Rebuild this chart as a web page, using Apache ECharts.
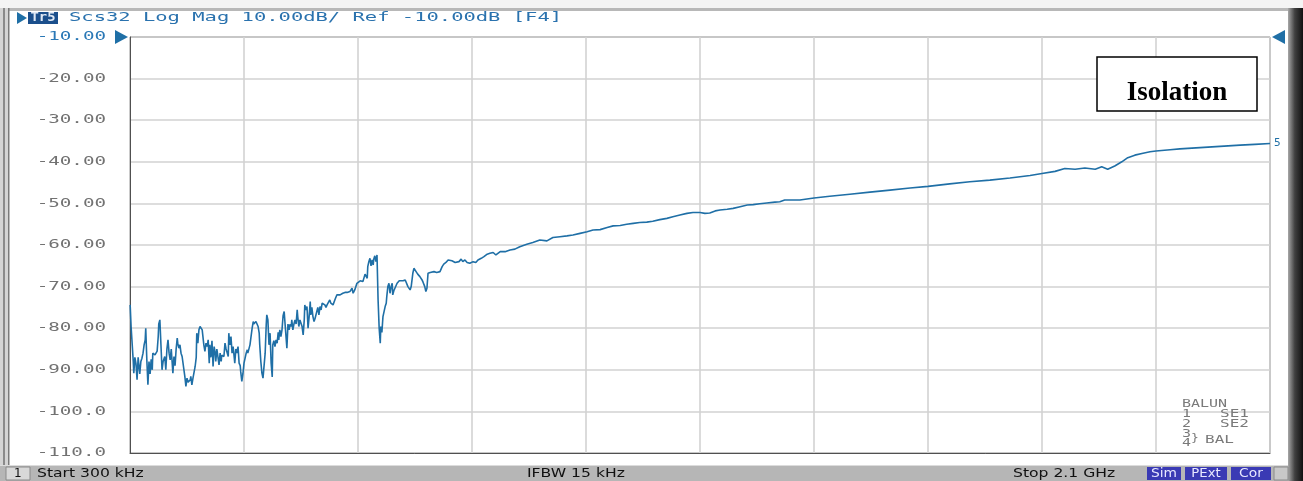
<!DOCTYPE html>
<html><head><meta charset="utf-8">
<style>html,body{margin:0;padding:0;background:#fff;}#c{width:1303px;height:481px;}</style>
<script src="https://cdn.jsdelivr.net/npm/echarts@6/dist/echarts.min.js"></script>
</head><body><div id="c"></div>
<script>
// Sweep: Start 300 kHz, Stop 2.1 GHz (frequencies in MHz)
const freqMHz = [0.3,2,4,6,7,9,11,13,15,17,18,20,22,24,26,28,29,31,33,35,37,39,41,42,46,50,52,53,55,57,59,61,64,66,68,70,72,74,76,77,79,81,83,85,87,88,90,92,94,96,98,101,103,105,107,111,112,114,116,120,122,123,125,127,129,133,134,136,138,140,142,144,146,147,149,151,153,155,157,158,160,162,164,166,168,169,173,175,177,181,182,184,186,188,190,192,193,195,197,199,201,203,204,206,208,210,214,216,217,221,225,227,228,232,234,236,238,239,241,243,245,247,249,251,252,254,256,258,260,262,263,265,267,269,271,273,274,276,278,280,282,284,286,287,289,291,293,295,297,298,300,302,304,306,308,309,311,313,315,317,319,321,322,324,326,328,330,332,333,335,337,339,341,343,344,346,348,350,352,354,356,359,361,363,365,368,370,372,374,376,378,381,383,387,392,396,400,405,409,411,414,418,420,424,427,429,433,435,437,438,440,442,444,446,448,449,451,453,455,457,459,461,462,464,466,468,470,472,473,475,477,479,481,483,484,486,488,492,496,499,503,507,510,512,516,518,519,521,523,525,527,529,530,534,538,540,543,545,547,549,553,560,565,571,575,578,582,586,589,593,599,602,606,610,613,617,621,626,632,637,641,647,652,658,663,669,674,682,691,700,709,718,731,742,755,768,779,792,805,816,829,842,853,866,879,890,903,915,927,939,952,963,976,989,1000,1013,1026,1037,1050,1059,1068,1078,1087,1100,1111,1124,1137,1148,1160,1173,1188,1197,1206,1234,1260,1289,1326,1363,1400,1437,1470,1510,1547,1584,1621,1658,1680,1704,1722,1741,1759,1778,1790,1801,1814,1827,1838,1851,1864,1879,1890,1916,1934,1971,2008,2045,2072,2100];
const scs32dB = [-74.4,-79.6,-80,-88,-90.8,-87,-88.5,-92.4,-87,-86.8,-91,-88,-87.2,-86,-84,-82.8,-80,-87.6,-93.6,-88,-91,-87.5,-90,-86,-86.4,-85.5,-82,-79,-78,-84,-90,-88,-86.8,-90,-85,-82.8,-86,-87.6,-85,-87,-90.8,-86.8,-89,-85,-82.4,-83.6,-84.8,-84,-86,-86.8,-87,-91.6,-94,-92,-93,-92.4,-91.6,-93.6,-92,-89.2,-87,-81.2,-83.6,-80.4,-79.6,-80.4,-80,-84,-85.6,-83.6,-84.4,-82.8,-88.4,-84,-87,-83,-89.2,-84.4,-86,-88,-85,-85.2,-88.8,-86,-88,-86.5,-86.8,-83.6,-85,-86.8,-81.2,-84,-82,-86,-84.4,-87,-88.4,-85,-86,-84.4,-88.4,-89,-90.5,-92.8,-91,-88.4,-86,-85.2,-86,-84,-80,-78.4,-79,-78.4,-79,-79.6,-81.2,-84,-88,-90.8,-92,-91.7,-86,-79,-76.8,-78,-84,-81.2,-88.4,-91.7,-84,-83,-84.4,-82.8,-83.6,-81,-82.8,-80.4,-82,-80.4,-77,-76,-79.6,-80,-84.8,-79,-80.4,-79,-79.6,-78,-80.4,-79,-78,-79,-75.6,-77.2,-79.6,-78,-78,-79.6,-81.6,-78,-74.4,-75.6,-74.8,-80,-77.2,-73.6,-76.8,-75,-77.2,-78.4,-77.6,-77.2,-78,-75,-76.8,-74.8,-75.6,-74,-74.4,-74.4,-75,-74.4,-74.4,-73.2,-74,-73.6,-74.4,-74,-73,-72,-72.4,-72,-71.6,-71.4,-71.4,-71.2,-70.4,-71.6,-70.8,-69.2,-68.8,-68.6,-68.4,-68.8,-67,-66.8,-68,-65.2,-64,-63.2,-65,-63.6,-64.8,-63.4,-62.6,-64,-62.4,-73.2,-80,-83.6,-79.6,-81,-77.2,-76,-74.8,-74,-72.4,-70,-69.2,-71.6,-70,-69.2,-72,-71,-70.8,-69.2,-68.6,-68.4,-68.6,-68.4,-68.8,-70,-70.8,-70,-69.6,-66.8,-65.6,-66,-66.4,-66.8,-67,-67.6,-68.4,-69,-70,-71.2,-70.4,-66.8,-66.6,-66.4,-66.6,-66.4,-65.2,-64.6,-64.2,-63.6,-64,-63.8,-64.2,-63.8,-64,-63.4,-64,-63.6,-64.2,-64.4,-64,-64.2,-63.6,-63.2,-62.8,-62.2,-62,-61.8,-62.4,-61.6,-61.6,-61.2,-61,-60.4,-59.8,-59.4,-58.8,-59,-58.2,-58,-57.8,-57.6,-57.2,-56.8,-56.4,-56.3,-55.8,-55.4,-55.3,-55,-54.8,-54.6,-54.5,-54.3,-53.9,-53.6,-53.2,-52.8,-52.4,-52.2,-52.2,-52.4,-52.3,-51.8,-51.6,-51.4,-51.2,-50.8,-50.4,-50.3,-50.1,-49.9,-49.7,-49.6,-49.2,-49.2,-48.7,-48.3,-47.8,-47.3,-46.8,-46.3,-45.9,-45.3,-44.8,-44.4,-43.9,-43.3,-42.8,-42.3,-41.6,-41.8,-41.5,-41.8,-41.2,-41.8,-41.0,-40,-39,-38.4,-38,-37.6,-37.4,-37.1,-36.9,-36.6,-36.3,-36,-35.8,-35.6];
const yTickValues = [-10,-20,-30,-40,-50,-60,-70,-80,-90,-100,-110];
const yTickLabels = ['-10.00','-20.00','-30.00','-40.00','-50.00','-60.00','-70.00','-80.00','-90.00','-100.0','-110.0'];
const headerText = 'Scs32 Log Mag 10.00dB/ Ref -10.00dB [F4]';
const traceName = 'Tr5';
const statusStart = 'Start 300 kHz';
const statusIfbw = 'IFBW 15 kHz';
const statusStop = 'Stop 2.1 GHz';
const boxLabel = 'Isolation';

const BLUE = '#1f6fa6';
const chart = echarts.init(document.getElementById('c'), null, {renderer: 'canvas'});

function stext(x, y, text, opts) {
  return {
    type: 'text', x: x, y: y, scaleX: opts.sx || 1, z: 100, silent: true,
    style: {text: text, fill: opts.color || '#222', font: opts.font,
      textAlign: opts.align || 'left', textVerticalAlign: 'middle'}
  };
}

const data = freqMHz.map((f, i) => [f, scs32dB[i]]);

chart.setOption({
  animation: false,
  backgroundColor: '#ffffff',
  grid: {left: 130, right: 33, top: 37, bottom: 28, show: true, backgroundColor: '#ffffff', borderColor: '#505050', borderWidth: 1},
  xAxis: {
    type: 'value', min: 0, max: 2100, interval: 210,
    axisLabel: {show: false}, axisTick: {show: false},
    axisLine: {show: true, lineStyle: {color: '#505050', width: 1}},
    splitLine: {show: true, lineStyle: {color: '#d2d2d2', width: 1.6}}
  },
  yAxis: {
    type: 'value', min: -110, max: -10, interval: 10,
    axisTick: {show: false}, axisLabel: {show: false},
    axisLine: {show: true, lineStyle: {color: '#505050', width: 1}},
    splitLine: {show: true, lineStyle: {color: '#d2d2d2', width: 1.6}}
  },
  series: [{
    type: 'line', data: data, showSymbol: false, symbol: 'none',
    lineStyle: {color: BLUE, width: 1.6}, itemStyle: {color: BLUE},
    endLabel: {show: true, formatter: '5', color: BLUE, fontFamily: 'DejaVu Sans Mono', fontSize: 11, distance: 4}
  }]
});

// y tick labels positioned through the axis scale
const yLabelEls = yTickValues.map((v, i) => {
  const py = chart.convertToPixel({yAxisIndex: 0}, v);
  return stext(106, py, yTickLabels[i], {font: '12px "DejaVu Sans Mono"', color: i === 0 ? '#2a78b6' : '#727272', align: 'right', sx: 1.6});
});

const grey = '#7a7a7a';
chart.setOption({
  graphic: [
    // window frame
    {type: 'rect', shape: {x: 0, y: 0, width: 1303, height: 8}, style: {fill: '#f4f4f4'}, silent: true},
    {type: 'rect', shape: {x: 0, y: 8, width: 1303, height: 3}, style: {fill: '#b8b8b8'}, silent: true},
    {type: 'rect', shape: {x: 0, y: 8, width: 9, height: 473}, style: {fill: '#d4d4d4'}, silent: true},
    {type: 'rect', shape: {x: 3, y: 8, width: 2, height: 473}, style: {fill: '#8a8a8a'}, silent: true},
    {type: 'rect', shape: {x: 8, y: 8, width: 1.5, height: 473}, style: {fill: '#7a7a7a'}, silent: true},
    {type: 'rect', shape: {x: 1288, y: 8, width: 15, height: 473},
      style: {fill: new echarts.graphic.LinearGradient(0, 0, 1, 0, [{offset: 0, color: '#a8a8a8'}, {offset: 0.45, color: '#404040'}, {offset: 1, color: '#101010'}])}, silent: true},
    // status bar
    {type: 'rect', shape: {x: 0, y: 465, width: 1288, height: 16}, style: {fill: '#b6b6b6'}, silent: true},
    {type: 'rect', shape: {x: 0, y: 465, width: 1288, height: 1}, style: {fill: '#dcdcdc'}, silent: true},
    {type: 'rect', shape: {x: 6, y: 467, width: 24, height: 13}, style: {fill: '#d8d8d8', stroke: '#8a8a8a', lineWidth: 1}, silent: true},
    stext(14, 474, '1', {font: '12px "DejaVu Sans"', color: '#111'}),
    stext(37, 474, statusStart, {font: '12px "DejaVu Sans"', color: '#111', sx: 1.3}),
    stext(527, 474, statusIfbw, {font: '12px "DejaVu Sans"', color: '#111', sx: 1.3}),
    stext(1013, 474, statusStop, {font: '12px "DejaVu Sans"', color: '#111', sx: 1.3}),
    {type: 'rect', shape: {x: 1147, y: 467, width: 34, height: 13}, style: {fill: '#3a3ab4'}, silent: true},
    {type: 'rect', shape: {x: 1185, y: 467, width: 42, height: 13}, style: {fill: '#3a3ab4'}, silent: true},
    {type: 'rect', shape: {x: 1231, y: 467, width: 40, height: 13}, style: {fill: '#3a3ab4'}, silent: true},
    stext(1164, 474, 'Sim', {font: '12px "DejaVu Sans"', color: '#e8e8ff', align: 'center', sx: 1.15}),
    stext(1206, 474, 'PExt', {font: '12px "DejaVu Sans"', color: '#e8e8ff', align: 'center', sx: 1.1}),
    stext(1251, 474, 'Cor', {font: '12px "DejaVu Sans"', color: '#e8e8ff', align: 'center', sx: 1.15}),
    {type: 'rect', shape: {x: 1274, y: 467, width: 14, height: 13}, style: {fill: '#c8c8c8', stroke: '#8a8a8a', lineWidth: 1}, silent: true},
    // header
    {type: 'polygon', shape: {points: [[17, 12], [27, 18], [17, 24]]}, style: {fill: BLUE}, silent: true},
    {type: 'rect', shape: {x: 28, y: 12, width: 30, height: 12}, style: {fill: '#1b4f8c'}, silent: true},
    stext(43, 18, traceName, {font: 'bold 12px "DejaVu Sans Mono"', color: '#dfe8f4', align: 'center', sx: 1.15}),
    stext(69, 18, headerText, {font: '13px "DejaVu Sans Mono"', color: '#2a72ae', sx: 1.575}),
    // reference markers
    {type: 'polygon', shape: {points: [[115, 30], [128, 37], [115, 44]]}, style: {fill: BLUE}, z: 100, silent: true},
    {type: 'polygon', shape: {points: [[1285, 30], [1272, 37], [1285, 44]]}, style: {fill: BLUE}, z: 100, silent: true},
    // Isolation box
    {type: 'rect', shape: {x: 1097, y: 57, width: 160, height: 54}, style: {fill: '#ffffff', stroke: '#000', lineWidth: 1.5}, z: 100, silent: true},
    stext(1177, 93, boxLabel, {font: 'bold 27px "Liberation Serif"', color: '#000', align: 'center'}),
    // BALUN legend
    stext(1182, 404, 'BALUN', {font: '10px "DejaVu Sans Mono"', color: grey, sx: 1.5}),
    stext(1182, 414, '1', {font: '10px "DejaVu Sans Mono"', color: grey, sx: 1.5}),
    stext(1220, 414, 'SE1', {font: '10px "DejaVu Sans Mono"', color: grey, sx: 1.6}),
    stext(1182, 424, '2', {font: '10px "DejaVu Sans Mono"', color: grey, sx: 1.5}),
    stext(1220, 424, 'SE2', {font: '10px "DejaVu Sans Mono"', color: grey, sx: 1.6}),
    stext(1182, 434, '3', {font: '10px "DejaVu Sans Mono"', color: grey, sx: 1.5}),
    stext(1182, 443, '4', {font: '10px "DejaVu Sans Mono"', color: grey, sx: 1.5}),
    stext(1191, 438, '}', {font: '10px "DejaVu Sans Mono"', color: grey, sx: 1.3}),
    stext(1205, 440, 'BAL', {font: '10px "DejaVu Sans Mono"', color: grey, sx: 1.6})
  ].concat(yLabelEls)
});
</script></body></html>
